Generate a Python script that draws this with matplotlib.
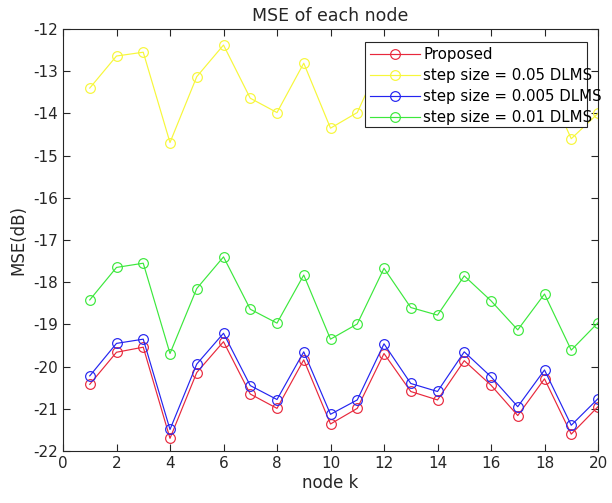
import matplotlib
matplotlib.use("Agg")
import matplotlib.pyplot as plt
from matplotlib.patches import Rectangle
import numpy as np

plt.rcParams['axes.unicode_minus'] = False

nodes = list(range(1, 21))
proposed = [-20.42, -19.66, -19.54, -21.70, -20.14, -19.41, -20.65, -20.99, -19.84, -21.36,
            -20.99, -19.69, -20.59, -20.79, -19.86, -20.44, -21.16, -20.29, -21.60, -20.95]
dlms_005 = [-13.40, -12.64, -12.55, -14.69, -13.13, -12.38, -13.64, -13.98, -12.81, -14.35,
            -13.98, -12.60, -13.50, -13.70, -12.90, -13.40, -13.90, -13.20, -14.60, -14.00]
dlms_0005 = [-20.22, -19.45, -19.35, -21.49, -19.94, -19.21, -20.45, -20.78, -19.65, -21.13,
             -20.79, -19.46, -20.40, -20.59, -19.65, -20.24, -20.95, -20.08, -21.39, -20.76]
dlms_001 = [-18.42, -17.65, -17.55, -19.69, -18.15, -17.40, -18.64, -18.97, -17.83, -19.35,
            -18.99, -17.67, -18.60, -18.78, -17.85, -18.44, -19.13, -18.28, -19.61, -18.96]

labels = ["Proposed", "step size = 0.05 DLMS", "step size = 0.005 DLMS", "step size = 0.01 DLMS"]
colors = ["#e8283c", "#f7f73a", "#2424f0", "#3ce83c"]
series = [proposed, dlms_005, dlms_0005, dlms_001]

W, H = 612, 503
L, R, T, B = 63, 598, 29, 451
fig = plt.figure(figsize=(W/100, H/100), dpi=100)
ax = fig.add_axes([L/W, 1 - B/H, (R-L)/W, (B-T)/H])

def ax_xy(px, py):
    return (px - L) / (R - L), (B - py) / (B - T)

for vals, c, lab in zip(series, colors, labels):
    ax.plot(nodes, vals, color=c, lw=0.85, marker='o', ms=7, mfc='none', mec=c, mew=0.85, label=lab)

ax.set_xlim(0, 20)
ax.set_ylim(-22, -12)
ax.set_xticks(range(0, 21, 2))
ax.set_yticks(range(-22, -11, 1))
ax.tick_params(direction='in', top=True, right=True, labelsize=11, colors='#262626', length=5)
for s in ax.spines.values():
    s.set_color('#262626')
    s.set_linewidth(0.8)
ax.set_title("MSE of each node", fontsize=12.5, color='#262626', pad=6)
ax.set_xlabel("node k", fontsize=12, color='#262626', labelpad=2)
ax.set_ylabel("MSE(dB)", fontsize=12, color='#262626', labelpad=4)

# legend box (MATLAB-style: text overflows the frame)
x0, y0 = ax_xy(365, 127)
x1, y1 = ax_xy(587, 42)
rect = Rectangle((x0, y0), x1 - x0, y1 - y0, transform=ax.transAxes,
                 facecolor='white', edgecolor='#262626', lw=0.8, zorder=4)
ax.add_patch(rect)

ax_leg = ax_xy(370, 47)
leg = ax.legend(loc='upper left', bbox_to_anchor=ax_leg,
                fontsize=10.8, frameon=False, borderaxespad=0, handlelength=3.3,
                borderpad=0, labelspacing=0.4, handletextpad=0.25)
leg.set_zorder(5)

fig.savefig("out.png", dpi=100)
